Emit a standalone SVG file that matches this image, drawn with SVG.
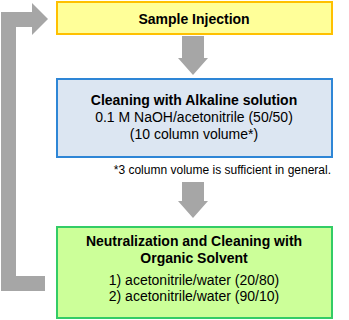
<svg xmlns="http://www.w3.org/2000/svg" width="349" height="320" viewBox="0 0 349 320">
<style>
text{font-family:"Liberation Sans",Arial,sans-serif;fill:#000;text-anchor:middle}
.b{font-weight:bold;font-size:14px}
.r{font-size:14px}
.arrow{fill:#a6a6a6}
</style>
<rect width="349" height="320" fill="#fff"/>
<g id="connectors">
<polygon class="arrow" points="1,12 32,12 32,3 48,19 32,35 32,27 16,27 16,276 45,276 45,291 1,291"/>
<polygon class="arrow" points="182,36 204,36 204,58 208,58 193,75 178,58 182,58"/>
<polygon class="arrow" points="182,182 204,182 204,201 208,201 193,218 178,201 182,201"/>
</g>
<g id="sample-injection">
<rect x="57" y="2" width="275" height="32" fill="#ffff99" stroke="#ffc000" stroke-width="2"/>
<text class="b" x="194" y="24">Sample Injection</text>
</g>
<g id="alkaline-cleaning">
<rect x="57" y="79" width="275" height="78" fill="#dce6f2" stroke="#2e86d6" stroke-width="2"/>
<text class="b" x="194" y="105">Cleaning with Alkaline solution</text>
<text class="r" x="194" y="122">0.1 M NaOH/acetonitrile (50/50)</text>
<text class="r" x="194" y="139">(10 column volume*)</text>
</g>
<text id="footnote" x="331" y="174" style="font-size:12px;text-anchor:end">*3 column volume is sufficient in general.</text>
<g id="neutralization">
<rect x="57" y="227" width="275" height="91" fill="#ccff99" stroke="#33cc66" stroke-width="2"/>
<text class="b" x="194" y="246">Neutralization and Cleaning with</text>
<text class="b" x="194" y="263">Organic Solvent</text>
<text class="r" x="194" y="285">1) acetonitrile/water (20/80)</text>
<text class="r" x="194" y="301">2) acetonitrile/water (90/10)</text>
</g>
</svg>
